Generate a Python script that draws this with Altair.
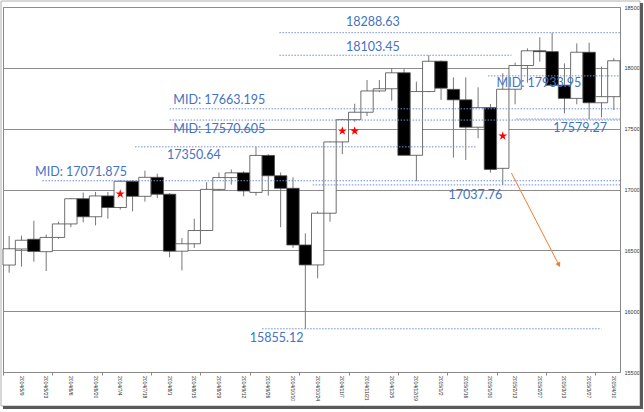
import altair as alt
import pandas as pd

dates = ["2014/5/2", "2014/5/9", "2014/5/16", "2014/5/23", "2014/5/30",
         "2014/6/6", "2014/6/13", "2014/6/20", "2014/6/27",
         "2014/7/4", "2014/7/11", "2014/7/18", "2014/7/25",
         "2014/8/1", "2014/8/8", "2014/8/15", "2014/8/22", "2014/8/29",
         "2014/9/5", "2014/9/12", "2014/9/19", "2014/9/26",
         "2014/10/3", "2014/10/10", "2014/10/17", "2014/10/24", "2014/10/31",
         "2014/11/7", "2014/11/14", "2014/11/21", "2014/11/28",
         "2014/12/5", "2014/12/12", "2014/12/19", "2014/12/26",
         "2015/1/2", "2015/1/9", "2015/1/16", "2015/1/23", "2015/1/30",
         "2015/2/6", "2015/2/13", "2015/2/20", "2015/2/27",
         "2015/3/6", "2015/3/13", "2015/3/20", "2015/3/27",
         "2015/4/3", "2015/4/10"]

opens = [16379, 16511, 16591, 16489, 16606, 16717, 16924, 16776, 16947, 16852,
         17068, 16944, 17100, 16961, 16493, 16554, 16663, 17001, 17098, 17137,
         16976, 17280, 17113, 17010, 16544, 16380, 16805, 17391, 17574, 17635,
         17810, 17828, 17959, 17281, 17805, 18054, 17823, 17737, 17512, 17673,
         17174, 17824, 18019, 18140, 18133, 17857, 17749, 18128, 17713, 17763]
highs = [16618, 16620, 16744, 16630, 16735, 16930, 16975, 16980, 16980, 17075,
         17075, 17155, 17130, 16970, 16600, 16760, 17060, 17140, 17165, 17150,
         17351, 17290, 17140, 17100, 16640, 16820, 17395, 17580, 17705, 17900,
         17900, 17995, 17990, 17886, 18103, 18060, 17922, 17922, 17840, 17703,
         17955, 18043, 18160, 18251, 18289, 18037, 18201, 18207, 18010, 18080]
lows = [16316, 16366, 16407, 16330, 16595, 16690, 16730, 16705, 16760, 16835,
        16820, 16900, 16930, 16443, 16335, 16520, 16660, 16990, 17040, 16944,
        16950, 16950, 16690, 16520, 15855, 16270, 16735, 17290, 17557, 17604,
        17800, 17730, 17280, 17068, 17800, 17736, 17262, 17243, 17421, 17138,
        17038, 17700, 17878, 18050, 17850, 17626, 17700, 17579, 17593, 17653]
closes = [16513, 16583, 16491, 16606, 16717, 16924, 16776, 16947, 16852, 17068,
          16944, 17100, 16961, 16493, 16554, 16663, 17001, 17098, 17137, 16988,
          17280, 17113, 17010, 16544, 16380, 16805, 17391, 17574, 17635, 17810,
          17828, 17959, 17281, 17805, 18054, 17833, 17737, 17512, 17673, 17165,
          17824, 18019, 18140, 18133, 17857, 17749, 18128, 17713, 17763, 18058]

# horizontal reference levels (dotted blue lines)
level_values = [18288.63, 18103.45, 17933.95, 17663.195, 17570.605, 17579.27,
                17350.64, 17071.875, 17037.76, 15855.12]
level_from = [21.9, 21.9, 38.8, 13.0, 13.0, 41.1, 10.2, 2.7, 24.6, 20.5]
level_to = [49.5, 40.7, 49.5, 49.5, 49.5, 49.5, 37.8, 49.5, 49.5, 48.0]

# annotation texts
note_texts = ["18288.63", "18103.45", "MID: 17933.95", "MID: 17663.195",
              "MID: 17570.605", "17350.64", "MID: 17071.875", "17037.76",
              "15855.12", "17579.27"]
note_x = [27.3, 27.3, 39.5, 13.3, 13.3, 12.8, 2.1, 35.6, 19.5, 44.1]
note_y = [18377, 18171, 17873, 17736, 17497, 17284, 17146, 16955, 15779, 17508]

# red stars
star_x = [9, 27, 28, 40]
star_y = [16963, 17481, 17481, 17440]

# orange arrow
arrow_x = [40.7, 44.55]
arrow_y = [17136, 16380]

n = len(dates)
df = pd.DataFrame({"i": list(range(n)), "date": dates, "open": opens,
                   "high": highs, "low": lows, "close": closes})
tick_labels = pd.DataFrame({"i": list(range(1, n, 2)),
                            "date": [dates[k] for k in range(1, n, 2)]})
lv = pd.DataFrame({"v": level_values, "a": level_from, "b": level_to})
notes = pd.DataFrame({"t": note_texts, "x": note_x, "y": note_y})
stars = pd.DataFrame({"x": star_x, "y": star_y})
arrow = pd.DataFrame({"x": [arrow_x[0]], "x2": [arrow_x[1]],
                      "y": [arrow_y[0]], "y2": [arrow_y[1]]})
arrow_head = pd.DataFrame({"x": [arrow_x[1]], "y": [arrow_y[1]]})

W, H = 617, 365
band = W / n
xs = alt.Scale(domain=[-0.5, n - 0.5], nice=False, zero=False)
ys = alt.Scale(domain=[15500, 18500], nice=False, zero=False)

x_axis = alt.Axis(values=list(range(n)), labels=False,
                  tickOffset=-band / 2, tickSize=3,
                  tickColor="#888", domainColor="#888", grid=False, title=None)
y_axis = alt.Axis(orient="right", values=list(range(15500, 18501, 500)),
                  format="d", grid=True, gridColor="#8c8c8c", ticks=False,
                  domain=False, labelFontSize=5.5, labelColor="#333",
                  labelPadding=4, labelFlush=False, title=None)

STAR = ("M0,-1L0.225,-0.309L0.951,-0.309L0.363,0.118L0.588,0.809L0,0.382"
        "L-0.588,0.809L-0.363,0.118L-0.951,-0.309L-0.225,-0.309Z")

wicks = alt.Chart(df).mark_rule(color="#777", strokeWidth=1).encode(
    x=alt.X("i:Q", scale=xs, axis=x_axis, title=None),
    y=alt.Y("low:Q", scale=ys, axis=y_axis, title=None),
    y2="high:Q",
)

bodies = alt.Chart(df).transform_calculate(
    x0="datum.i - 0.5", x1="datum.i + 0.5"
).mark_bar(stroke="#4a4a4a", strokeWidth=0.8).encode(
    x=alt.X("x0:Q", scale=xs, title=None),
    x2="x1:Q",
    y=alt.Y("open:Q", scale=ys, title=None),
    y2="close:Q",
    fill=alt.condition("datum.close < datum.open", alt.value("#000000"),
                       alt.value("#ffffff")),
)

date_labels = alt.Chart(tick_labels).mark_text(
    angle=90, align="left", baseline="middle", fontSize=5, color="#333",
    font="Liberation Sans"
).encode(
    x=alt.X("i:Q", scale=xs, title=None),
    y=alt.value(H + 4),
    text="date:N",
)

levels = alt.Chart(lv).mark_rule(color="#6f8fd6", strokeWidth=1,
                                 strokeDash=[1.5, 1.5]).encode(
    x=alt.X("a:Q", scale=xs, title=None),
    x2="b:Q",
    y=alt.Y("v:Q", scale=ys, title=None),
)

texts = alt.Chart(notes).mark_text(align="left", baseline="middle",
                                   font="Lato", fontSize=12.5,
                                   color="#4472C4").encode(
    x=alt.X("x:Q", scale=xs, title=None),
    y=alt.Y("y:Q", scale=ys, title=None),
    text="t:N",
)

star_marks = alt.Chart(stars).mark_point(shape=STAR, filled=True,
                                         color="#ff0000", size=90,
                                         opacity=1).encode(
    x=alt.X("x:Q", scale=xs, title=None),
    y=alt.Y("y:Q", scale=ys, title=None),
)

arrow_line = alt.Chart(arrow).mark_rule(color="#ED7D31", strokeWidth=1).encode(
    x=alt.X("x:Q", scale=xs, title=None), x2="x2:Q",
    y=alt.Y("y:Q", scale=ys, title=None), y2="y2:Q",
)
arrow_tip = alt.Chart(arrow_head).mark_point(shape="triangle-right", filled=True,
                                             color="#ED7D31", size=30, angle=63,
                                             opacity=1).encode(
    x=alt.X("x:Q", scale=xs, title=None),
    y=alt.Y("y:Q", scale=ys, title=None),
)

one = pd.DataFrame({"k": [0]})
frame = alt.Chart(one).mark_rect(fillOpacity=0, stroke="#b0b0b0",
                                 strokeWidth=1).encode(
    x=alt.value(-2), x2=alt.value(637), y=alt.value(-6), y2=alt.value(399))
shadow_b = alt.Chart(one).mark_rect(fill="#5a5a5a").encode(
    x=alt.value(0), x2=alt.value(640), y=alt.value(399), y2=alt.value(402))
shadow_r = alt.Chart(one).mark_rect(fill="#5a5a5a").encode(
    x=alt.value(637), x2=alt.value(640), y=alt.value(-4), y2=alt.value(402))

chart = alt.layer(
    wicks, bodies, date_labels, levels, texts, star_marks, arrow_line,
    arrow_tip, frame, shadow_b, shadow_r
).properties(
    width=W, height=H,
    padding={"left": 3, "top": 7, "right": 24, "bottom": 40},
    autosize=alt.AutoSizeParams(type="none"),
    background="#ffffff",
).configure_view(stroke="#888", strokeWidth=1)

chart.save("out.html", embed_options={"renderer": "svg", "actions": False})
